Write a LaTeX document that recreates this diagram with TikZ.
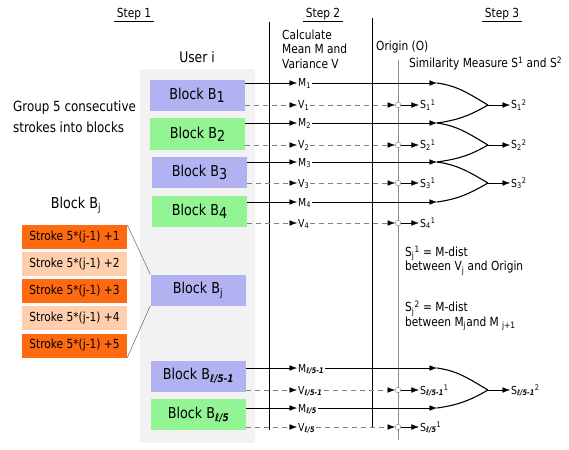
\documentclass[tikz,border=0pt]{standalone}
\usepackage{fontspec}
\setmainfont{DejaVu Sans}[FakeStretch=0.85]
\usepackage{tikz}
\usetikzlibrary{arrows.meta,positioning}
\tikzset{>/.tip={Latex[length=7.5pt,width=5.5pt]}}
\definecolor{blkblue}{RGB}{178,178,242}
\definecolor{blkgreen}{RGB}{146,244,146}
\definecolor{panelgrey}{RGB}{242,242,242}
\definecolor{strkdark}{RGB}{255,106,16}
\definecolor{strklight}{RGB}{255,206,172}
\newcommand{\hdrfont}{\fontsize{12.5}{14.5}\selectfont}
\newcommand{\blkfont}{\fontsize{15}{18}\selectfont}
\newcommand{\lblfont}{\fontsize{11}{13}\selectfont}
\newcommand{\strkfont}{\fontsize{12.5}{14}\selectfont}
\newcommand{\bnum}[1]{\raisebox{-0.35ex}{#1}}
\newcommand{\lsub}[1]{\textsubscript{\textbf{\textit{#1}}}}
\tikzset{
  panel/.style={fill=panelgrey,minimum width=115pt,minimum height=374pt,inner sep=0pt},
  hdr/.style={font=\hdrfont,inner xsep=3pt},
  blk/.style={minimum width=95pt,minimum height=31pt,inner sep=0pt,font=\blkfont},
  blkb/.style={blk,fill=blkblue},
  blkg/.style={blk,fill=blkgreen},
  strk/.style={minimum width=105pt,minimum height=24pt,inner sep=0pt,font=\strkfont},
  strkd/.style={strk,fill=strkdark},
  strkl/.style={strk,fill=strklight},
  lbl/.style={font=\lblfont,anchor=west,inner sep=1pt,text height=8pt,text depth=0pt},
  mline/.style={->,black},
  vline/.style={draw=black!50,dash pattern=on 5pt off 4pt,-{Latex[length=7.5pt,width=5.5pt,color=black]}},
  merge/.style={line width=1.1pt},
  orig/.style={circle,draw=black!50,fill=white,minimum size=5.5pt,inner sep=0pt},
  note/.style={font=\hdrfont,align=left,anchor=north west,inner sep=0pt}
}
\begin{document}
\begin{tikzpicture}[x=1pt,y=-1pt]
  \useasboundingbox (0,0) rectangle (569,449);
  \node[panel] (panel) at (197.5,256) {};

  \node[hdr,anchor=base] (step1) at (134,18) {Step 1};
  \node[hdr,anchor=base] (step2) at (323,18) {Step 2};
  \node[hdr,anchor=base] (step3) at (502,18) {Step 3};
  \draw ([yshift=-3pt]step1.base west) -- ([yshift=-3pt]step1.base east);
  \draw ([yshift=-3pt]step2.base west) -- ([yshift=-3pt]step2.base east);
  \draw ([yshift=-3pt]step3.base west) -- ([yshift=-3pt]step3.base east);

  \coordinate (div1t) at (269,22);
  \coordinate (div1b) at (269,430);
  \coordinate (div2t) at (372,18);
  \coordinate (div2b) at (372,428);
  \coordinate (origt) at (398,60);
  \coordinate (origb) at (398,440);
  \draw (div1t) -- (div1b);
  \draw (div2t) -- (div2b);
  \draw[black!45] (origt) -- (origb);

  \node[note] (calc) at (282,29.5) {Calculate\\Mean M and\\Variance V};
  \node[hdr,anchor=base west,inner sep=0pt] (origin) at (376,51) {Origin (O)};
  \node[hdr,anchor=base west,inner sep=0pt] (simil) at (409,68)
    {Similarity Measure S\textsuperscript{1} and S\textsuperscript{2}};
  \node[font=\fontsize{14.5}{17}\selectfont,anchor=base] (user) at (197,63) {User i};
  \node[font=\fontsize{14}{21}\selectfont,align=left,anchor=north west,inner sep=0pt]
    (group) at (13,100.5) {Group 5 consecutive\\strokes into blocks};

  \node[blkb] (b1) at (197,95.5) {Block B\bnum{1}};
  \node[blkg] (b2) at (197.5,134) {Block B\bnum{2}};
  \node[blkb] (b3) at (199.5,172.5) {Block B\bnum{3}};
  \node[blkg] (b4) at (199.5,211) {Block B\bnum{4}};
  \node[blkb] (bj) at (198,290) {Block B\textsubscript{j}};
  \node[blkb] (bl1) at (198.5,376) {Block B\lsub{ℓ/5-1}};
  \node[blkg] (bl) at (198.5,414.5) {Block B\lsub{ℓ/5}};

  \node[font=\blkfont,anchor=base] (bjlbl) at (76,208) {Block B\textsubscript{j}};
  \node[strkd] (st1) at (74.5,237) {Stroke 5*(j-1) +1};
  \node[strkl] (st2) at (74.5,264) {Stroke 5*(j-1) +2};
  \node[strkd] (st3) at (74.5,291) {Stroke 5*(j-1) +3};
  \node[strkl] (st4) at (74.5,318) {Stroke 5*(j-1) +4};
  \node[strkd] (st5) at (74.5,345.5) {Stroke 5*(j-1) +5};
  \draw[black!60,line width=0.5pt] (st1.north east) -- (bj.north west);
  \draw[black!60,line width=0.5pt] (st5.south east) -- (bj.south west);

  \node[lbl] (m1) at (297,83) {M\textsubscript{1}};
  \node[lbl] (v1) at (297,105) {V\textsubscript{1}};
  \node[lbl] (m2) at (297,123) {M\textsubscript{2}};
  \node[lbl] (v2) at (297,145) {V\textsubscript{2}};
  \node[lbl] (m3) at (297,162) {M\textsubscript{3}};
  \node[lbl] (v3) at (297,183) {V\textsubscript{3}};
  \node[lbl] (m4) at (297,202) {M\textsubscript{4}};
  \node[lbl] (v4) at (297,223) {V\textsubscript{4}};
  \node[lbl] (ml1) at (297,368) {M\lsub{ℓ/5-1}};
  \node[lbl] (vl1) at (297,390) {V\lsub{ℓ/5-1}};
  \node[lbl] (ml) at (297,408) {M\lsub{ℓ/5}};
  \node[lbl] (vl) at (297,427) {V\lsub{ℓ/5}};

  \draw[mline] (b1.east |- m1) -- (m1.west);
  \draw[vline] (b1.east |- v1) -- (v1.west);
  \draw[mline] (b2.east |- m2) -- (m2.west);
  \draw[vline] (b2.east |- v2) -- (v2.west);
  \draw[mline] (b3.east |- m3) -- (m3.west);
  \draw[vline] (b3.east |- v3) -- (v3.west);
  \draw[mline] (b4.east |- m4) -- (m4.west);
  \draw[vline] (b4.east |- v4) -- (v4.west);
  \draw[mline] (bl1.east |- ml1) -- (ml1.west);
  \draw[vline] (bl1.east |- vl1) -- (vl1.west);
  \draw[mline] (bl.east |- ml) -- (ml.west);
  \draw[vline] (bl.east |- vl) -- (vl.west);

  \node[orig] (o1) at (398,105) {};
  \node[orig] (o2) at (398,145) {};
  \node[orig] (o3) at (398,183) {};
  \node[orig] (o4) at (398,223) {};
  \node[orig] (ol1) at (398,390) {};
  \node[orig] (ol) at (398,427) {};
  \draw[vline] (v1.east) -- (o1);
  \draw[vline] (v2.east) -- (o2);
  \draw[vline] (v3.east) -- (o3);
  \draw[vline] (v4.east) -- (o4);
  \draw[vline] (vl1.east) -- (ol1);
  \draw[vline] (vl.east) -- (ol);

  \node[lbl,right=18pt of o1] (s11) {S\textsubscript{1}\textsuperscript{1}};
  \node[lbl,right=18pt of o2] (s21) {S\textsubscript{2}\textsuperscript{1}};
  \node[lbl,right=18pt of o3] (s31) {S\textsubscript{3}\textsuperscript{1}};
  \node[lbl,right=18pt of o4] (s41) {S\textsubscript{4}\textsuperscript{1}};
  \node[lbl,right=18pt of ol1] (sl11) {S\lsub{ℓ/5-1}\textsuperscript{1}};
  \node[lbl,right=18pt of ol] (sl1) {S\lsub{ℓ/5}\textsuperscript{1}};
  \draw[mline] (o1) -- (s11.west);
  \draw[mline] (o2) -- (s21.west);
  \draw[mline] (o3) -- (s31.west);
  \draw[mline] (o4) -- (s41.west);
  \draw[mline] (ol1) -- (sl11.west);
  \draw[mline] (ol) -- (sl1.west);

  \coordinate (cm1) at (437,83);
  \coordinate (cm2) at (437,123);
  \coordinate (cm3) at (437,162);
  \coordinate (cm4) at (437,202);
  \coordinate (cml1) at (437,368);
  \coordinate (cml) at (437,408);
  \draw[mline] (m1.east) -- (cm1);
  \draw[mline] (m2.east) -- (cm2);
  \draw[mline] (m3.east) -- (cm3);
  \draw[mline] (m4.east) -- (cm4);
  \draw[mline] (ml1.east) -- (cml1);
  \draw[mline] (ml.east) -- (cml);

  \coordinate (j1) at (488,105);
  \coordinate (j2) at (488,145);
  \coordinate (j3) at (488,183);
  \coordinate (jl1) at (488,390);
  \draw[merge] (cm1) to[out=-8,in=150] (j1);
  \draw[merge] (cm2) to[out=8,in=-150] (j1);
  \draw[merge] (cm2) to[out=-8,in=150] (j2);
  \draw[merge] (cm3) to[out=8,in=-150] (j2);
  \draw[merge] (cm3) to[out=-8,in=150] (j3);
  \draw[merge] (cm4) to[out=8,in=-150] (j3);
  \draw[merge] (cml1) to[out=-8,in=150] (jl1);
  \draw[merge] (cml) to[out=8,in=-150] (jl1);

  \node[lbl] (s12) at (510,105) {S\textsubscript{1}\textsuperscript{2}};
  \node[lbl] (s22) at (510,145) {S\textsubscript{2}\textsuperscript{2}};
  \node[lbl] (s32) at (510,183) {S\textsubscript{3}\textsuperscript{2}};
  \node[lbl] (sl12) at (510,390) {S\lsub{ℓ/5-1}\textsuperscript{2}};
  \draw[mline] (j1) -- (s12.west);
  \draw[mline] (j2) -- (s22.west);
  \draw[mline] (j3) -- (s32.west);
  \draw[mline] (jl1) -- (sl12.west);

  \node[note] (def1) at (405,245.5)
    {S\textsubscript{j}\textsuperscript{1} = M-dist\\between V\textsubscript{j} and Origin};
  \node[note] (def2) at (405,300.5)
    {S\textsubscript{j}\textsuperscript{2} = M-dist\\between M\textsubscript{j}and M \textsubscript{j+1}};
\end{tikzpicture}
\end{document}
